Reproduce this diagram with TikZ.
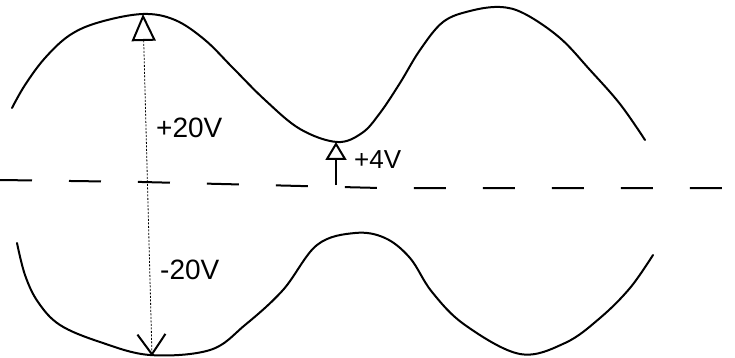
\documentclass[tikz,border=0pt]{standalone}
\usepackage{fontspec}
\setmainfont{Liberation Sans}
\usetikzlibrary{arrows.meta}
\begin{document}
\begin{tikzpicture}[x=1pt,y=-1pt,
  wave/.style={line width=2pt, line cap=round, line join=round},
  axisline/.style={line width=2pt, dash pattern=on 32pt off 37pt},
  measure/.style={line width=0.8pt, dash pattern=on 2pt off 1.5pt},
  lbl/.style={font=\fontsize{28}{30}\selectfont, inner sep=0pt, anchor=west}]
\useasboundingbox (0,0) rectangle (735,358);
% upper curve
\draw[wave] plot[smooth, tension=0.6] coordinates {
 (12,108) (25,85) (45,58) (70,35) (100,22) (143,14) (175,20) (205,40)
 (233,68) (265,100) (300,129) (337,142) (362,133) (380,113) (400,83)
 (420,50) (443,22) (470,11) (500,7) (525,14) (560,38) (590,70)
 (620,104) (645,140)};
% lower curve
\draw[wave] plot[smooth, tension=0.6] coordinates {
 (17,243) (25,275) (38,302) (60,325) (100,342) (150,355) (210,350)
 (245,325) (283,290) (317,245) (355,233) (385,238) (410,258) (432,292)
 (465,325) (520,354) (565,343) (600,318) (630,288) (653,255)};
% dashed zero line
\coordinate (zl) at (0,180);
\coordinate (zr) at (725,188);
\draw[axisline] (zl) -- (142,182) -- (380,188) -- (zr);
% +/-20V measuring arrow
\coordinate (ptop) at (143,14);
\coordinate (pbot) at (152,356);
\draw[measure, {Triangle[open, length=27pt, width=24pt, line width=2pt]}-{Straight Barb[length=20pt, width=28pt, line width=2pt]}] (ptop) -- (pbot);
% +4V arrow
\coordinate (lo4) at (336,185);
\coordinate (hi4) at (336,142);
\draw[line width=1.5pt, -{Triangle[open, length=18pt, width=21pt, line width=2pt]}] (lo4) -- (hi4);
% labels
\node[lbl] (l20) at (156,128) {+20V};
\node[lbl] (lm20) at (160,270) {-20V};
\node[lbl, font=\fontsize{26}{28}\selectfont] (l4) at (354,160) {+4V};
\end{tikzpicture}
\end{document}
